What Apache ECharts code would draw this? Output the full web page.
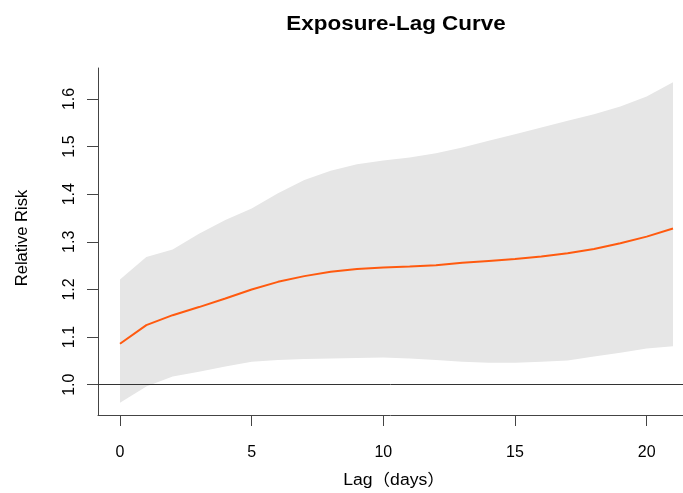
<!DOCTYPE html>
<html>
<head>
<meta charset="utf-8">
<script src="https://cdn.jsdelivr.net/npm/echarts@6/dist/echarts.min.js"></script>
<style>
html,body{margin:0;padding:0;background:#fff;}
#chart{width:683px;height:493px;}
</style>
</head>
<body>
<div id="chart"></div>
<script>
// Data
const lags  = [0,1,2,3,4,5,6,7,8,9,10,11,12,13,14,15,16,17,18,19,20,21];
const rr    = [1.086,1.125,1.146,1.163,1.181,1.200,1.216,1.228,1.237,1.243,1.246,1.248,1.251,1.256,1.260,1.264,1.269,1.276,1.285,1.297,1.311,1.328];
const upper = [1.221,1.268,1.284,1.317,1.346,1.370,1.402,1.430,1.449,1.463,1.471,1.477,1.486,1.498,1.512,1.526,1.540,1.554,1.568,1.584,1.605,1.635];
const lower = [0.962,0.996,1.017,1.027,1.038,1.048,1.052,1.054,1.055,1.056,1.057,1.055,1.052,1.048,1.046,1.046,1.048,1.051,1.059,1.067,1.076,1.081];
const xTicks = [0,5,10,15,20];
const yTicks = [1.0,1.1,1.2,1.3,1.4,1.5,1.6];
const refLine = 1;
const titleText = 'Exposure-Lag Curve';
const xName = 'Lag（days）';
const yName = 'Relative Risk';

const FONT = '"Liberation Sans", Arial, "Noto Sans CJK SC", sans-serif';
const chart = echarts.init(document.getElementById('chart'), null, {renderer:'canvas'});

const bandData = lags.map((x,i)=>[x, lower[i], upper[i]]);

const option = {
  animation: false,
  backgroundColor: '#ffffff',
  grid: {left: 98, top: 68, right: 0, bottom: 78, containLabel: false},
  xAxis: {
    type: 'value', min: -0.8355, max: 21.38,
    splitLine: {show: false},
    axisLine: {show: true, onZero: false, lineStyle: {color: '#444', width: 1}},
    axisTick: {show: true, length: 11, customValues: xTicks, lineStyle: {color: '#444'}},
    axisLabel: {customValues: xTicks, margin: 30, fontSize: 16, color: '#000', fontFamily: FONT,
      formatter: v => String(v)}
  },
  yAxis: {
    type: 'value', min: 0.9364, max: 1.665,
    splitLine: {show: false},
    axisLine: {show: true, onZero: false, lineStyle: {color: '#444', width: 1}},
    axisTick: {show: true, length: 11, customValues: yTicks, lineStyle: {color: '#444'}},
    axisLabel: {customValues: yTicks, margin: 20, fontSize: 16, rotate: 90, color: '#000', fontFamily: FONT,
      formatter: v => v.toFixed(1)}
  },
  graphic: [
    {type: 'text', x: 396, y: 25, scaleX: 1.15,
      style: {text: titleText, fontFamily: FONT, fontSize: 19.5, fontWeight: 'bold', fill: '#000', align: 'center', verticalAlign: 'middle'}},
    {type: 'text', x: 394, y: 481, scaleX: 1.1,
      style: {text: xName, fontFamily: FONT, fontSize: 16, fill: '#000', align: 'center', verticalAlign: 'middle'}},
    {type: 'text', x: 22, y: 238, rotation: Math.PI/2,
      style: {text: yName, fontFamily: FONT, fontSize: 16.5, fill: '#000', align: 'center', verticalAlign: 'middle'}}
  ],
  series: [
    {
      type: 'custom',
      data: bandData,
      encode: {x: 0, y: [1,2]},
      z: 1,
      renderItem: function(params, api){
        if (params.dataIndex !== 0) return null;
        const pts = [];
        for (let i = 0; i < lags.length; i++) pts.push(api.coord([lags[i], upper[i]]));
        for (let i = lags.length - 1; i >= 0; i--) pts.push(api.coord([lags[i], lower[i]]));
        return {type: 'polygon', shape: {points: pts}, style: {fill: '#e6e6e6', stroke: null}};
      }
    },
    {
      type: 'line',
      data: lags.map((x,i)=>[x, rr[i]]),
      showSymbol: false,
      z: 3,
      lineStyle: {color: '#ff5a0f', width: 2},
      markLine: {
        silent: true, symbol: 'none', animation: false,
        label: {show: false},
        lineStyle: {color: '#333', type: 'solid', width: 1},
        data: [{yAxis: refLine}]
      }
    }
  ]
};
chart.setOption(option);
</script>
</body>
</html>
